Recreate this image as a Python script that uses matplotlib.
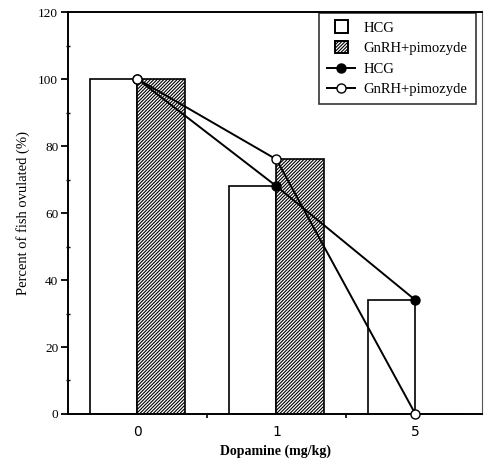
import matplotlib
matplotlib.use("Agg")
import matplotlib.pyplot as plt
from matplotlib.patches import Patch, Rectangle
from matplotlib.lines import Line2D
from matplotlib.legend_handler import HandlerPatch
import numpy as np

plt.rcParams['font.family'] = ['Liberation Serif', 'DejaVu Serif']
plt.rcParams['hatch.linewidth'] = 0.8

doses = ["0", "1", "5"]
bar_hcg = [100, 68, 34]
bar_gnrh = [100, 76, 0]
line_hcg = [100, 68, 34]
line_gnrh = [100, 76, 0]
yticks = [0, 20, 40, 60, 80, 100, 120]

HATCH = '//////////'

fig = plt.figure(figsize=(4.84, 4.62), dpi=100)
ax = fig.add_axes([0.1405, 0.1039, 0.8555, 0.8701])

x = np.arange(len(doses))
w = 0.34
ax.bar(x - w / 2, bar_hcg, width=w, facecolor='white', edgecolor='black', linewidth=1.2, zorder=2)
ax.bar(x + w / 2, bar_gnrh, width=w, facecolor='white', edgecolor='black', linewidth=1.2,
       hatch=HATCH, zorder=2)

ax.plot(x, line_hcg, color='black', linewidth=1.4, marker='o', markersize=6.5,
        markerfacecolor='black', markeredgecolor='black', zorder=4, clip_on=False)
ax.plot(x, line_gnrh, color='black', linewidth=1.4, marker='o', markersize=6.5,
        markerfacecolor='white', markeredgecolor='black', zorder=5, clip_on=False)

ax.set_xlim(-0.5, 2.48)
ax.set_ylim(0, 120)
ax.set_yticks(yticks)
ax.set_yticks(np.arange(10, 120, 20), minor=True)
ax.set_xticks(x)
ax.set_xticklabels(doses, fontsize=10, family=['DejaVu Sans'])
ax.set_xticks([0.5, 1.5], minor=True)
ax.tick_params(axis='x', which='major', length=0, pad=8)
ax.tick_params(axis='x', which='minor', length=3, width=1.2, direction='out')
ax.tick_params(axis='y', which='major', length=5, width=1.3, direction='out', labelsize=9.5, pad=2)
ax.tick_params(axis='y', which='minor', length=3, width=1.0, direction='inout')

for s in ax.spines.values():
    s.set_linewidth(1.4)
ax.spines['right'].set_linewidth(0.8)
ax.spines['right'].set_color('#555555')

ax.set_ylabel('Percent of fish ovulated (%)', fontsize=10.5, labelpad=6)
ax.set_xlabel('Dopamine (mg/kg)', fontsize=10, fontweight='bold', labelpad=4)


def square_patch(legend, orig_handle, xdescent, ydescent, width, height, fontsize):
    side = height * 1.25
    cx = -xdescent + width / 2
    cy = -ydescent + height / 2
    return Rectangle((cx - side / 2, cy - side / 2), side, side)


handles = [
    Patch(facecolor='white', edgecolor='black', linewidth=1.4, label='HCG'),
    Patch(facecolor='white', edgecolor='black', linewidth=1.4, hatch=HATCH, label='GnRH+pimozyde'),
    Line2D([0], [0], color='black', linewidth=1.4, marker='o', markersize=6.5,
           markerfacecolor='black', label='HCG'),
    Line2D([0], [0], color='black', linewidth=1.4, marker='o', markersize=6.5,
           markerfacecolor='white', label='GnRH+pimozyde'),
]
leg = ax.legend(handles=handles, loc='upper right', bbox_to_anchor=(0.988, 1.0),
                borderaxespad=0.1,
                fontsize=10.5, frameon=True, fancybox=False, edgecolor='black',
                handlelength=1.9, handletextpad=0.6, borderpad=0.55, labelspacing=0.5,
                handler_map={Patch: HandlerPatch(patch_func=square_patch)})
leg.get_frame().set_linewidth(1.2)

fig.savefig('out.png', dpi=100)
